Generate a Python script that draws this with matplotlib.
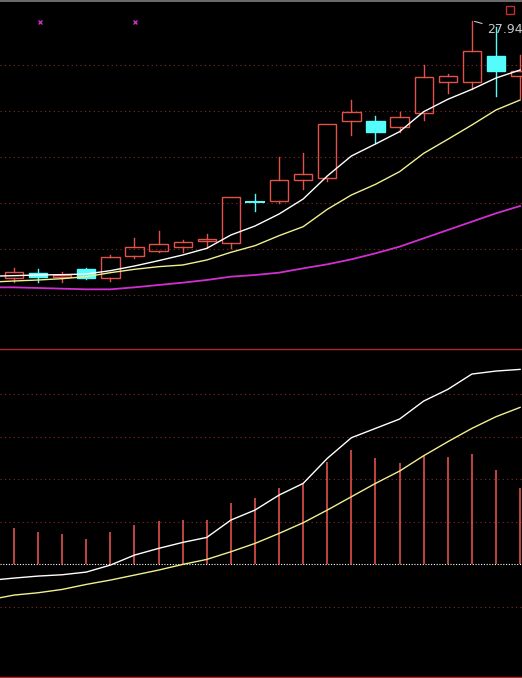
import matplotlib
matplotlib.use("Agg")
import matplotlib.pyplot as plt
import numpy as np

# candle readings (screen rows of the 3x zoom); converted to prices below
opens_px = [835, 818, 830, 808, 835, 767, 752, 740, 723, 730, 605, 602, 541, 535, 362, 363, 382, 340, 247, 247, 168, 227]
closes_px = [815, 830, 825, 835, 770, 740, 733, 727, 717, 592, 605, 541, 523, 373, 337, 395, 352, 232, 229, 154, 212, 212]
highs_px = [805, 808, 815, 803, 765, 715, 693, 720, 703, 592, 583, 472, 460, 373, 300, 348, 337, 196, 222, 62, 80, 165]
lows_px = [845, 845, 845, 838, 842, 773, 755, 755, 745, 745, 632, 608, 567, 543, 405, 428, 395, 360, 278, 268, 288, 295]
falling = [False, True, False, True, False, False, False, False, False, False, True, False,
           False, False, False, True, False, False, False, False, True, False]
ma5_px = [828, 827, 825, 824, 822, 812, 798, 782, 765, 745, 705, 678, 642, 597, 528, 468, 432, 395, 335, 298, 268, 234, 210]
ma10_px = [845, 843, 840, 836, 830, 818, 808, 800, 795, 780, 757, 737, 707, 680, 628, 585, 553, 515, 460, 418, 375, 330, 300]
ma30_px = [862, 862, 864, 866, 868, 868, 862, 855, 848, 840, 830, 825, 818, 805, 793, 778, 760, 740, 715, 690, 665, 640, 618]

# lower indicator readings
bars_px = [565, 577, 583, 598, 577, 556, 544, 541, 541, 490, 475, 445, 432, 367, 331, 355, 370, 347, 352, 343, 390, 445]
ind_white_px = [718, 714, 708, 704, 696, 675, 645, 625, 607, 592, 540, 510, 465, 430, 355, 293, 265, 237, 183, 148, 102, 93, 88]
ind_yellow_px = [773, 765, 758, 748, 733, 720, 705, 690, 673, 658, 635, 610, 580, 548, 510, 470, 430, 393, 347, 305, 265, 230, 202]

HIGH_LABEL = "27.94"


def to_price(v):
    return 27 - (np.asarray(v) - 195) / 138


def to_ind(v):
    return (672 - np.asarray(v)) / 127.5


o, c, h, l = map(to_price, (opens_px, closes_px, highs_px, lows_px))
n = len(o)
idx = np.arange(n)
line_x = np.concatenate([[-0.58], idx])

RED = "#e0524a"
CYAN = "#54fcfc"
GRID = "#8a2a22"

fig = plt.figure(figsize=(5.22, 6.78), dpi=100, facecolor="black")
ax = fig.add_axes([0, 1 - 349 / 678, 1, 349 / 678], facecolor="black")
ax2 = fig.add_axes([0, 0, 1, 329 / 678], facecolor="black")

for a in (ax, ax2):
    a.set_xlim(-0.58, 21.08)
    for s in a.spines.values():
        s.set_visible(False)
    a.set_xticks([])
    a.set_yticks([])

ax.set_ylim(20.826, 28.413)
for g in [27, 26, 25, 24, 23, 22]:
    ax.axhline(g, color=GRID, lw=0.8, ls=(0, (1, 3)), zorder=0)
ax.axhline(28.39, color="#808080", lw=1.2)

w = 0.76
for i in range(n):
    col = CYAN if falling[i] else RED
    top, bot = max(o[i], c[i]), min(o[i], c[i])
    ax.plot([i, i], [top, h[i]], color=col, lw=1, zorder=2)
    ax.plot([i, i], [l[i], bot], color=col, lw=1, zorder=2)
    if top - bot < 0.02:
        ax.plot([i - w / 2, i + w / 2], [top, top], color=col, lw=1.5, zorder=2)
    elif not falling[i]:
        ax.add_patch(plt.Rectangle((i - w / 2, bot), w, top - bot, fill=False, ec=col, lw=1, zorder=2))
    else:
        ax.add_patch(plt.Rectangle((i - w / 2, bot), w, top - bot, fc=col, ec=col, lw=1, zorder=2))

ax.plot(line_x, to_price(ma5_px), color="white", lw=1, zorder=3)
ax.plot(line_x, to_price(ma10_px), color="#f0f090", lw=1, zorder=3)
ax.plot(line_x, to_price(ma30_px), color="#d030d0", lw=1.3, zorder=3)

ax.plot([1.06, 5.04], [to_price(66)] * 2, "x", color="#c030c0", ms=3, mew=1)
ax.plot([20.6], [to_price(30)], "s", mfc="none", mec="#c03030", ms=6)
ax.annotate(HIGH_LABEL, xy=(19, h[19]), xytext=(19.65, h[19] - 0.2),
            color="#c8c8c8", fontsize=9, va="center",
            arrowprops=dict(arrowstyle="-", color="#c8c8c8", lw=0.8))

# lower panel
ax2.set_ylim(-2.68, 5.06)
fig.add_artist(plt.Line2D([0, 1], [1 - 349 / 678] * 2, color="#b02828", lw=1))
fig.add_artist(plt.Line2D([0, 1], [0.002] * 2, color="#b02828", lw=1))
for g in [1, 2, 3, 4, -1]:
    ax2.axhline(g, color=GRID, lw=0.8, ls=(0, (1, 3)), zorder=0)
ax2.axhline(0, color="white", lw=0.8, ls=(0, (1, 1.5)))
ax2.vlines(idx, 0, to_ind(bars_px), color=RED, lw=1.2)
ax2.plot(line_x, to_ind(ind_white_px), color="white", lw=1)
ax2.plot(line_x, to_ind(ind_yellow_px), color="#f0f090", lw=1)

fig.savefig("out.png", dpi=100, facecolor="black")
